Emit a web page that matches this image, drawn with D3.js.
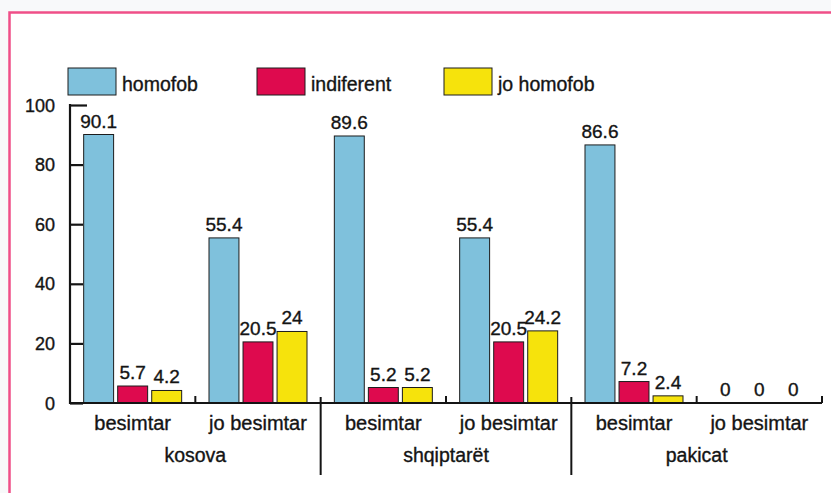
<!DOCTYPE html>
<html>
<head>
<meta charset="utf-8">
<script src="https://cdn.jsdelivr.net/npm/d3@7"></script>
<style>
  html, body { margin: 0; padding: 0; background: #f8f9fa; }
  svg { display: block; }
  text { font-family: "Liberation Sans", Arial, sans-serif; fill: #141414; stroke: #141414; stroke-width: 0.35px; }
</style>
</head>
<body>
<svg id="chart" width="831" height="493"></svg>
<script>
// ---- data ----
const groups = ["kosova", "shqiptarët", "pakicat"];
const subgroups = ["besimtar", "jo besimtar"];
const seriesNames = ["homofob", "indiferent", "jo homofob"];
const homofob    = [90.1, 55.4, 89.6, 55.4, 86.6, 0];
const indiferent = [5.7, 20.5, 5.2, 20.5, 7.2, 0];
const joHomofob  = [4.2, 24, 5.2, 24.2, 2.4, 0];
const yTicks = [0, 20, 40, 60, 80, 100];
const colors = ["#7fc1dc", "#de0a4e", "#f6e30c"];

const seriesValues = [homofob, indiferent, joHomofob];
const cells = [];
groups.forEach((g, gi) => subgroups.forEach((s, si) => cells.push({ key: g + "|" + s, group: g, sub: s, idx: gi * 2 + si })));

const svg = d3.select("#chart");

// frame
svg.append("rect").attr("x", 9).attr("y", 12).attr("width", 840).attr("height", 500).attr("fill", "#ffffff");
svg.append("path").attr("d", "M9.5,493 L9.5,12.5 L831,12.5")
  .attr("fill", "none").attr("stroke", "#ef4f88").attr("stroke-width", 2.5);

const x0 = 70, x1 = 822, yTop = 105, yBase = 403;
const x = d3.scaleBand().domain(cells.map(c => c.key)).range([x0, x1]).padding(0);
const bw = x.bandwidth();
const xs = d3.scaleBand().domain(seriesNames).range([(bw - 98) / 2, (bw + 98) / 2]).paddingInner(0.12);
const y = d3.scaleLinear().domain([0, 100]).range([yBase, yTop]);

// bars
cells.forEach(c => {
  const g = svg.append("g").attr("transform", `translate(${x(c.key)},0)`);
  seriesNames.forEach((s, si) => {
    const v = seriesValues[si][c.idx];
    if (v > 0) {
      g.append("rect")
        .attr("x", xs(s)).attr("y", y(v))
        .attr("width", xs.bandwidth()).attr("height", y(0) - y(v))
        .attr("fill", colors[si]).attr("stroke", "#1c1c1c").attr("stroke-width", 1);
    }
    g.append("text")
      .attr("x", xs(s) + xs.bandwidth() / 2).attr("y", y(v) - 7)
      .attr("text-anchor", "middle").attr("font-size", 19)
      .text(String(v));
  });
});

// y axis
const yAxis = d3.axisRight(y).tickValues(yTicks).tickSize(13).tickFormat("");
const ya = svg.append("g").attr("transform", `translate(${x0},0)`).call(yAxis);
ya.select(".domain").remove();
ya.selectAll(".tick line").attr("stroke", "#141414").attr("stroke-width", 2.2);
ya.selectAll(".tick").filter(d => d === 100).select("line").attr("x2", 17);
svg.append("line").attr("x1", x0).attr("x2", x0).attr("y1", y(100) - 1).attr("y2", yBase + 1)
  .attr("stroke", "#141414").attr("stroke-width", 2.2);
svg.selectAll(".ylab").data(yTicks).enter().append("text")
  .attr("x", 55).attr("y", d => y(d) + 6.5).attr("text-anchor", "end").attr("font-size", 18)
  .text(d => d);

// x baseline
svg.append("line").attr("x1", x0).attr("x2", x1).attr("y1", yBase).attr("y2", yBase)
  .attr("stroke", "#141414").attr("stroke-width", 2.2);
cells.forEach(c => {
  const xr = x(c.key) + bw;
  if (c.sub === "besimtar" || c.idx === cells.length - 1) {
    svg.append("line").attr("x1", xr).attr("x2", xr).attr("y1", yBase - 7).attr("y2", yBase)
      .attr("stroke", "#141414").attr("stroke-width", 2);
  } else {
    svg.append("line").attr("x1", xr).attr("x2", xr).attr("y1", yBase - 6).attr("y2", 475)
      .attr("stroke", "#141414").attr("stroke-width", 2);
  }
  svg.append("text").attr("x", x(c.key) + bw / 2).attr("y", 430)
    .attr("text-anchor", "middle").attr("font-size", 20).text(c.sub);
});
groups.forEach(g => {
  const a = x(g + "|" + subgroups[0]), b = x(g + "|" + subgroups[1]) + bw;
  svg.append("text").attr("x", (a + b) / 2).attr("y", 462)
    .attr("text-anchor", "middle").attr("font-size", 19.5).text(g);
});

// legend
const legX = [68, 257, 444];
seriesNames.forEach((s, i) => {
  svg.append("rect").attr("x", legX[i]).attr("y", 68).attr("width", 48).attr("height", 27)
    .attr("fill", colors[i]).attr("stroke", "#1c1c1c").attr("stroke-width", 1);
  svg.append("text").attr("x", legX[i] + 54).attr("y", 91).attr("font-size", 19.5).text(s);
});
</script>
</body>
</html>
